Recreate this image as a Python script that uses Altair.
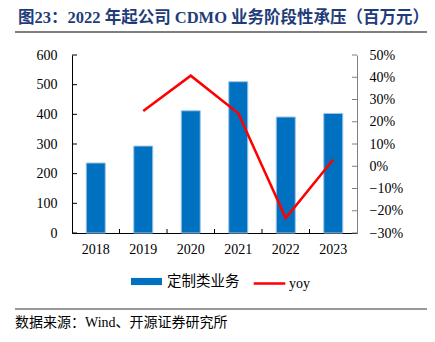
import altair as alt
import pandas as pd

years = ["2018", "2019", "2020", "2021", "2022", "2023"]
revenue = [236, 293, 412, 510, 391, 403]
yoy = [None, 0.248, 0.407, 0.238, -0.233, 0.03]
left_ticks = [0, 100, 200, 300, 400, 500, 600]
right_ticks = [-0.3, -0.2, -0.1, 0.0, 0.1, 0.2, 0.3, 0.4, 0.5]
title_text = "图23：2022 年起公司 CDMO 业务阶段性承压（百万元）"
source_text = "数据来源：Wind、开源证券研究所"
bar_name = "定制类业务"
line_name = "yoy"

W, H = 285, 178
SERIF = "Liberation Serif, Noto Sans CJK SC"
CJK = "Noto Sans CJK SC"

df = pd.DataFrame({"year": years, "rev": revenue, "yoy": yoy,
                   "s1": [bar_name] * 6, "s2": [line_name] * 6})
df_line = df.dropna()

xscale = alt.Scale(domain=years, paddingInner=0, paddingOuter=0)
lscale = alt.Scale(domain=[0, 600], nice=False)
rscale = alt.Scale(domain=[-0.3, 0.5], nice=False)

xaxis = alt.Axis(title=None, labelFont=SERIF, labelFontSize=14, labelColor="black",
                 domainColor="black", domain=True, ticks=False, labelPadding=9, labelAngle=0)

bars = alt.Chart(df).mark_bar(width=19, stroke="#9DC3E6", strokeWidth=1).encode(
    x=alt.X("year:N", scale=xscale, axis=xaxis),
    y=alt.Y("rev:Q", scale=lscale,
            axis=alt.Axis(title=None, orient="left", values=left_ticks, labelFont=SERIF,
                          labelFontSize=14, labelColor="black", domainColor="black",
                          domain=True, ticks=False, labelPadding=15, grid=False)),
    color=alt.Color("s1:N", scale=alt.Scale(domain=[bar_name], range=["#0070C0"]),
                    legend=alt.Legend(title=None, orient="none", legendX=59, legendY=211,
                                      symbolType="M-1,-0.23H1V0.23H-1Z", symbolSize=961,
                                      symbolStrokeWidth=0, labelFont=CJK, labelFontSize=14.5,
                                      labelColor="black", labelOffset=5, padding=0)),
)

line = alt.Chart(df_line).mark_line(color="#FF0000", strokeWidth=2.5).encode(
    x=alt.X("year:N", scale=xscale),
    y=alt.Y("yoy:Q", scale=rscale,
            axis=alt.Axis(title=None, orient="right", values=right_ticks, format=".0%",
                          labelFont=SERIF, labelFontSize=14, labelColor="black",
                          domainColor="#7F7F7F", domain=True, ticks=False,
                          labelPadding=12, grid=False)),
    stroke=alt.Stroke("s2:N", scale=alt.Scale(domain=[line_name], range=["#FF0000"]),
                      legend=alt.Legend(title=None, orient="none", legendX=180, legendY=211,
                                        symbolType="stroke", symbolSize=1000,
                                        symbolStrokeWidth=2.5, labelFont=SERIF,
                                        labelFontSize=14, labelColor="black",
                                        labelOffset=2, padding=0)),
)

lticks = alt.Chart(pd.DataFrame({"v": left_ticks})).mark_rule(color="black", strokeWidth=1).encode(
    y=alt.Y("v:Q", scale=lscale, axis=None), x=alt.value(0), x2=alt.value(5))

rticks = alt.Chart(pd.DataFrame({"v": right_ticks})).mark_rule(color="#7F7F7F", strokeWidth=1).encode(
    y=alt.Y("v:Q", scale=rscale, axis=None), x=alt.value(W - 5), x2=alt.value(W))

bticks = alt.Chart(pd.DataFrame({"year": years[1:]})).mark_rule(color="black", strokeWidth=1).encode(
    x=alt.X("year:N", scale=xscale, bandPosition=0),
    y=alt.value(H), y2=alt.value(H - 4))

title = alt.Chart(alt.Data(values=[{"t": title_text}])).mark_text(
    align="left", baseline="middle", font=SERIF, fontSize=16.5, fontWeight="bold", color="#1F3C7A"
).encode(text="t:N", x=alt.value(-54), y=alt.value(-37.5))

title_rule = alt.Chart(alt.Data(values=[{"a": 1}])).mark_rule(color="#7F7F7F", strokeWidth=2).encode(
    x=alt.value(-57), x2=alt.value(355), y=alt.value(-23))

src_rule = alt.Chart(alt.Data(values=[{"a": 1}])).mark_rule(color="#333333", strokeWidth=1).encode(
    x=alt.value(-57), x2=alt.value(355), y=alt.value(254))

source = alt.Chart(alt.Data(values=[{"t": source_text}])).mark_text(
    align="left", baseline="middle", font=SERIF, fontSize=14, color="black"
).encode(text="t:N", x=alt.value(-57), y=alt.value(268))

chart = alt.layer(bars, line, lticks, rticks, bticks, title, title_rule, src_rule, source).resolve_scale(
    y="independent", color="independent", stroke="independent"
).properties(
    width=W, height=H,
    autosize=alt.AutoSizeParams(type="none"),
    padding={"left": 72, "top": 55, "right": 78, "bottom": 109},
).configure_view(stroke=None)

chart.save("out.html", embed_options={"renderer": "svg", "actions": False})
